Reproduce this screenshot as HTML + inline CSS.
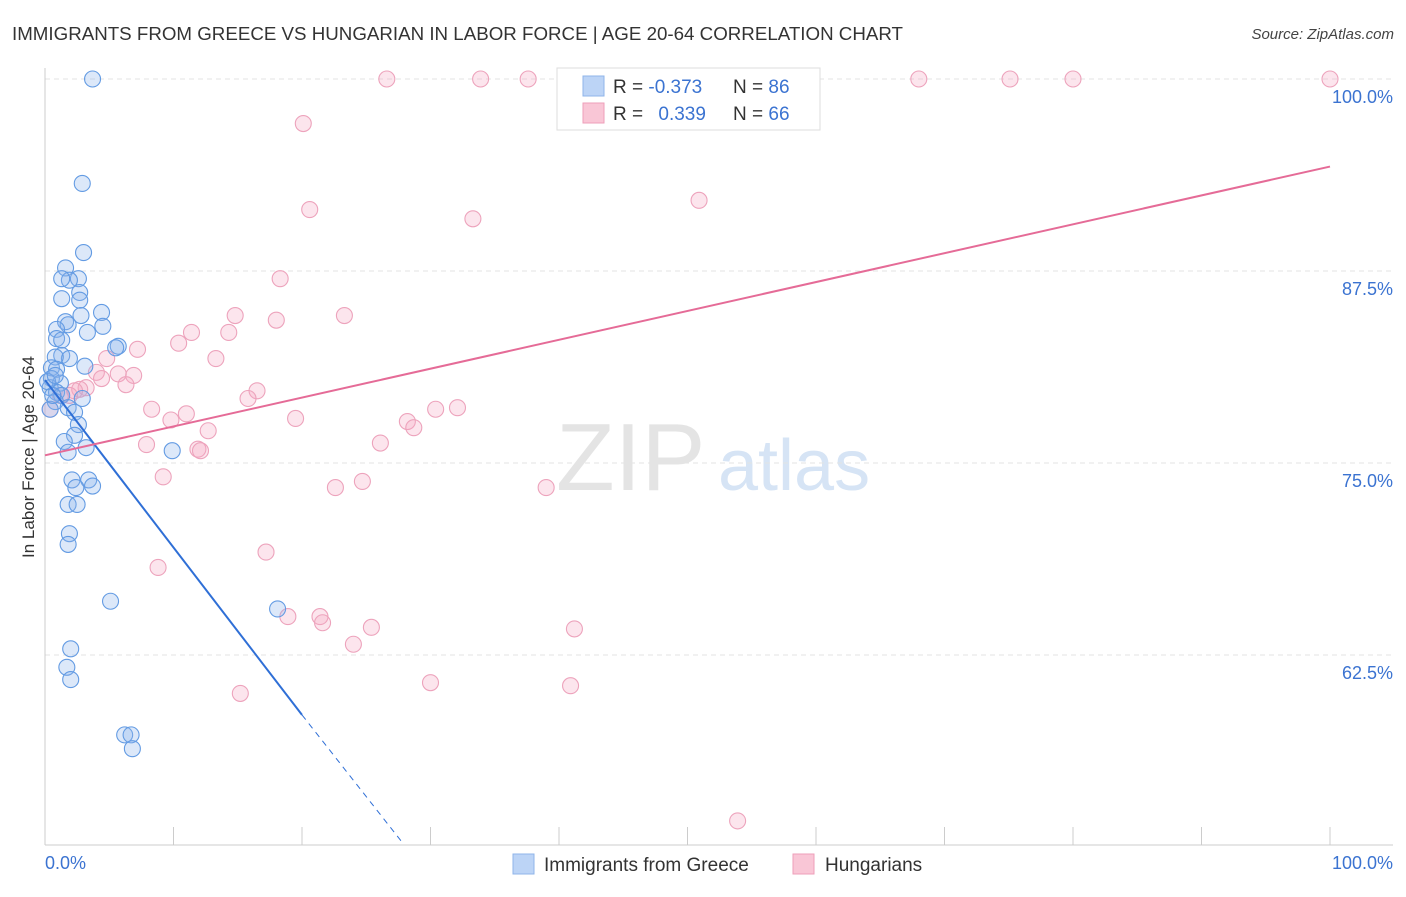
<!DOCTYPE html>
<html><head><meta charset="utf-8">
<style>
body{margin:0;background:#fff;font-family:"Liberation Sans",sans-serif;}
svg text{font-family:"Liberation Sans",sans-serif;}
</style></head>
<body>
<svg width="1406" height="892" xmlns="http://www.w3.org/2000/svg">
<text x="12" y="40" font-size="18" fill="#333" textLength="891" lengthAdjust="spacingAndGlyphs">IMMIGRANTS FROM GREECE VS HUNGARIAN IN LABOR FORCE | AGE 20-64 CORRELATION CHART</text>
<text x="1394" y="39" font-size="15" font-style="italic" fill="#444" text-anchor="end">Source: ZipAtlas.com</text>
<text x="556" y="490" font-size="96" fill="#e4e4e4" font-family="Liberation Serif">ZIP</text>
<text x="718" y="490" font-size="72" fill="#d6e4f5">atlas</text>
<g id="grid"></g>
<g id="pts"></g>
<g id="trend"></g>
<text transform="translate(34,457) rotate(-90)" font-size="17" fill="#333" text-anchor="middle">In Labor Force | Age 20-64</text>
<text x="45" y="869" font-size="18" fill="#3b73d1">0.0%</text>
<text x="1393" y="869" font-size="18" fill="#3b73d1" text-anchor="end">100.0%</text>
<g>
<rect x="557" y="68" width="263" height="62" fill="#fff" stroke="#ddd"/>
<rect x="583" y="76" width="21" height="20" fill="#bcd4f6" stroke="#8fb4ea"/>
<rect x="583" y="103" width="21" height="20" fill="#f9c6d6" stroke="#ee9fb9"/>
<text x="613" y="93" font-size="19" fill="#333">R = <tspan fill="#3b73d1">-0.373</tspan></text>
<text x="733" y="93" font-size="19" fill="#333">N = <tspan fill="#3b73d1">86</tspan></text>
<text x="613" y="120" font-size="19" fill="#333">R = <tspan fill="#3b73d1" dx="10">0.339</tspan></text>
<text x="733" y="120" font-size="19" fill="#333">N = <tspan fill="#3b73d1">66</tspan></text>
</g>
<g>
<rect x="513" y="854" width="21" height="20" fill="#bcd4f6" stroke="#8fb4ea"/>
<text x="544" y="871" font-size="19" fill="#333">Immigrants from Greece</text>
<rect x="793" y="854" width="21" height="20" fill="#f9c6d6" stroke="#ee9fb9"/>
<text x="825" y="871" font-size="19" fill="#333">Hungarians</text>
</g>
</svg>
<script>
const yTicks=[100,87.5,75,62.5];
const yTickLabels=["100.0%","87.5%","75.0%","62.5%"];
const xTicks=[0,10,20,30,40,50,60,70,80,90,100];
const blueX=[3.7,2.9,3.0,1.6,2.6,1.9,1.3,2.7,1.3,2.7,4.4,2.8,1.6,1.8,4.5,0.9,3.3,0.9,1.3,5.7,5.5,1.3,1.9,0.8,3.1,0.5,0.9,0.5,1.2,0.4,0.9,1.3,2.9,0.8,1.8,2.3,2.6,2.3,1.5,1.8,3.2,9.9,2.1,3.4,2.4,3.7,1.8,2.5,1.9,1.8,5.1,18.1,2.0,1.7,2.0,6.2,6.7,6.8,0.4,0.6,0.2,0.8];
const blueY=[100,93.2,88.7,87.7,87.0,86.9,87.0,86.1,85.7,85.6,84.8,84.6,84.2,84.0,83.9,83.7,83.5,83.1,83.0,82.6,82.5,82.0,81.8,81.9,81.3,81.2,81.1,80.5,80.2,79.9,79.6,79.4,79.2,79.0,78.6,78.3,77.5,76.8,76.4,75.7,76.0,75.8,73.9,73.9,73.4,73.5,72.3,72.3,70.4,69.7,66.0,65.5,62.9,61.7,60.9,57.3,57.3,56.4,78.5,79.4,80.3,80.7];
const pinkX=[26.6,33.9,37.6,57.2,68.0,75.1,80.0,100,20.1,20.6,33.3,50.9,18.3,14.8,18.0,23.3,11.4,14.3,10.4,7.2,13.3,4.8,4.0,5.7,6.9,4.4,6.3,3.2,2.7,2.3,1.9,16.5,15.8,8.3,11.0,9.8,19.5,30.4,32.1,28.2,28.7,12.7,7.9,11.9,12.1,26.1,9.2,22.6,24.7,39.0,17.2,8.8,18.9,21.4,21.6,25.4,41.2,24.0,15.2,30.0,40.9,53.9,0.4,1.2];
const pinkY=[100,100,100,100,100,100,100,100,97.1,91.5,90.9,92.1,87.0,84.6,84.3,84.6,83.5,83.5,82.8,82.4,81.8,81.8,80.9,80.8,80.7,80.5,80.1,79.9,79.8,79.7,79.4,79.7,79.2,78.5,78.2,77.8,77.9,78.5,78.6,77.7,77.3,77.1,76.2,75.9,75.8,76.3,74.1,73.4,73.8,73.4,69.2,68.2,65.0,65.0,64.6,64.3,64.2,63.2,60.0,60.7,60.5,51.7,78.5,79.4];
const blueTrendX=[0,20,27.8];
const blueTrendY=[80.4,58.6,50.3];
const pinkTrendX=[0,100];
const pinkTrendY=[75.5,94.3];
const NS='http://www.w3.org/2000/svg';
const sx=v=>45+v*12.85;
const sy=v=>79+(100-v)*15.36;
function mk(tag,attrs,parent){const e=document.createElementNS(NS,tag);for(const k in attrs)e.setAttribute(k,attrs[k]);parent.appendChild(e);return e;}
const grid=document.getElementById('grid');
yTicks.forEach((t,i)=>{
 const l=mk('line',{x1:45,x2:1393,y1:sy(t),y2:sy(t),stroke:'#e3e3e3','stroke-dasharray':'5,4'},grid);
 
 
 const tx=mk('text',{x:1393,y:sy(t)+24,'font-size':18,fill:'#3b73d1','text-anchor':'end'},grid);
 tx.textContent=yTickLabels[i];
 
 
});
const ax=mk('line',{x1:45,x2:45,y1:68,y2:845,stroke:'#ccc'},grid);


const bx=mk('line',{x1:45,x2:1393,y1:845,y2:845,stroke:'#ccc'},grid);


xTicks.forEach(t=>{
 const l=mk('line',{x1:sx(t),x2:sx(t),y1:827,y2:845,stroke:'#ccc'},grid);
 
 
});
const pts=document.getElementById('pts');
pinkX.forEach((x,i)=>{
 const c=mk('circle',{cx:sx(x),cy:sy(pinkY[i]),r:8,fill:'rgba(245,170,195,0.3)',stroke:'#eda3bc','stroke-width':1.1},pts);
 
 
});
blueX.forEach((x,i)=>{
 const c=mk('circle',{cx:sx(x),cy:sy(blueY[i]),r:8,fill:'rgba(140,180,235,0.3)',stroke:'#639be3','stroke-width':1.1},pts);
 
 
});
const tr=document.getElementById('trend');
const b1=mk('line',{x1:sx(blueTrendX[0]),y1:sy(blueTrendY[0]),x2:sx(blueTrendX[1]),y2:sy(blueTrendY[1]),stroke:'#2f6fd6','stroke-width':2},tr);


const b2=mk('line',{x1:sx(blueTrendX[1]),y1:sy(blueTrendY[1]),x2:sx(blueTrendX[2]),y2:sy(blueTrendY[2]),stroke:'#2f6fd6','stroke-width':1,'stroke-dasharray':'6,5'},tr);


const p1=mk('line',{x1:sx(pinkTrendX[0]),y1:sy(pinkTrendY[0]),x2:sx(pinkTrendX[1]),y2:sy(pinkTrendY[1]),stroke:'#e56b97','stroke-width':2},tr);


</script>
</body></html>
